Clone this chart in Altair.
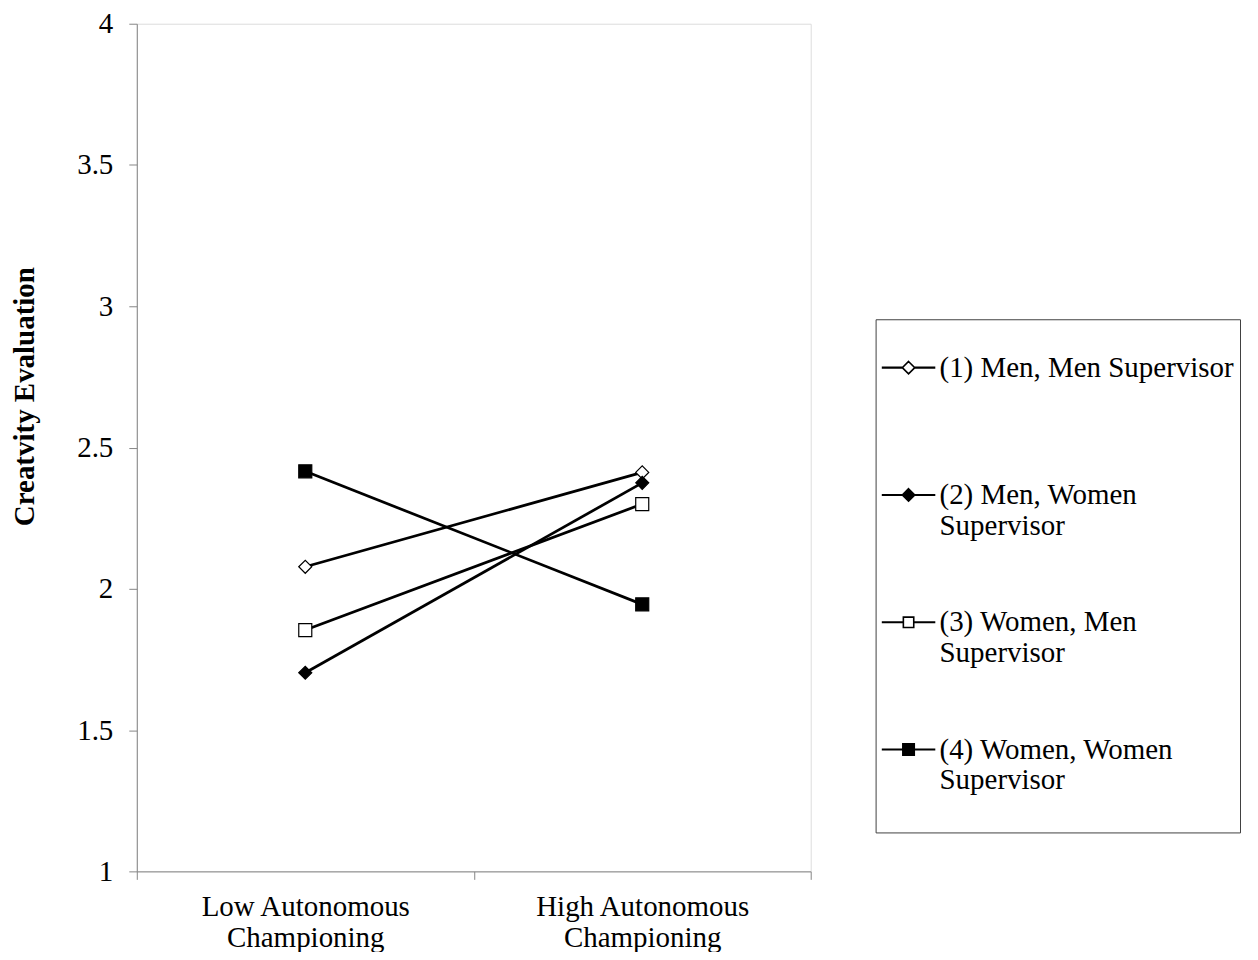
import altair as alt
import pandas as pd

# ---- data ----
conditions = ["Low Autonomous Championing", "High Autonomous Championing"]
series = [
    "(1) Men, Men Supervisor",
    "(2) Men, Women Supervisor",
    "(3) Women, Men Supervisor",
    "(4) Women, Women Supervisor",
]
low_values = [2.078, 1.703, 1.854, 2.416]
high_values = [2.412, 2.375, 2.300, 1.945]
y_ticks = [1, 1.5, 2, 2.5, 3, 3.5, 4]

# ---- styles ----
marker_shapes = ["diamond", "diamond", "square", "square"]
marker_fills = ["white", "black", "white", "black"]
marker_strokes = ["black", "black", "black", "black"]
marker_sizes = [170, 170, 180, 200]
FONT = "Liberation Serif"
FS = 29
GRAY = "#868686"


def legend_symbol(kind, r):
    # slim bars left & right of the marker, marker in the middle
    t = 0.01
    bars = f"M-1,{-t}H{-r}V{t}H-1Z M{r},{-t}H1V{t}H{r}Z "
    if kind == "diamond":
        m = f"M0,{-r}L{r},0L0,{r}L{-r},0Z"
    else:
        m = f"M{-r},{-r}H{r}V{r}H{-r}Z"
    return bars + m


legend_paths = [
    legend_symbol("diamond", 0.24),
    legend_symbol("diamond", 0.24),
    legend_symbol("square", 0.2),
    legend_symbol("square", 0.22),
]

rows = []
for s, lo, hi in zip(series, low_values, high_values):
    rows.append({"series": s, "condition": conditions[0], "value": lo})
    rows.append({"series": s, "condition": conditions[1], "value": hi})
df = pd.DataFrame(rows)

x_enc = alt.X(
    "condition:N",
    sort=conditions,
    scale=alt.Scale(paddingInner=0, paddingOuter=0),
    axis=alt.Axis(
        title=None,
        labelAngle=0,
        tickBand="extent",
        tickSize=8,
        tickColor=GRAY,
        domainColor=GRAY,
        labelFont=FONT,
        labelFontSize=FS,
        labelColor="black",
        labelPadding=13,
        labelLineHeight=31,
        labelLimit=600,
        labelExpr="[slice(datum.label, 0, lastindexof(datum.label, ' ')), slice(datum.label, lastindexof(datum.label, ' ') + 1)]",
        grid=False,
    ),
)
y_enc = alt.Y(
    "value:Q",
    scale=alt.Scale(domain=[1, 4], nice=False, zero=False),
    axis=alt.Axis(
        title="Creatvity Evaluation",
        values=y_ticks,
        format="~g",
        tickSize=8,
        tickColor=GRAY,
        domainColor=GRAY,
        labelFont=FONT,
        labelFontSize=FS,
        labelColor="black",
        labelPadding=16,
        titleFont=FONT,
        titleFontSize=FS,
        titleFontWeight="bold",
        titleColor="black",
        titleAngle=270,
        titleAlign="center",
        titleBaseline="middle",
        titleX=-112,
        titleY=373,
        grid=False,
    ),
)

base = alt.Chart(df)

lines = base.mark_line(color="black", strokeWidth=2.75).encode(
    x=x_enc, y=y_enc, detail="series:N"
)

points = base.mark_point(filled=True, stroke="black", strokeWidth=1.2, opacity=1).encode(
    x=x_enc,
    y=y_enc,
    shape=alt.Shape("series:N", scale=alt.Scale(domain=series, range=marker_shapes), legend=None),
    fill=alt.Fill("series:N", scale=alt.Scale(domain=series, range=marker_fills), legend=None),
    size=alt.Size("series:N", scale=alt.Scale(domain=series, range=marker_sizes), legend=None),
)

legend = alt.Legend(
    title=" ",
    titleFontSize=10,
    titlePadding=5.5,
    orient="none",
    legendX=740,
    legendY=296,
    direction="vertical",
    strokeColor="#404040",
    fillColor="white",
    padding=6,
    labelFont=FONT,
    labelFontSize=FS,
    labelColor="black",
    labelBaseline="middle",
    labelOffset=4,
    labelLimit=600,
    labelExpr="length(datum.label) > 23 ? [slice(datum.label, 0, lastindexof(datum.label, ' ')), slice(datum.label, lastindexof(datum.label, ' ') + 1), ''] : [datum.label, '', '']",
    symbolSize=2704,
    symbolStrokeColor="black",
    symbolStrokeWidth=1.6,
    rowPadding=23.5,
)

legend_layer = base.transform_filter("false").mark_point(
    filled=True, stroke="black", strokeWidth=1.6, opacity=1
).encode(
    shape=alt.Shape("series:N", scale=alt.Scale(domain=series, range=legend_paths), legend=legend),
    fill=alt.Fill("series:N", scale=alt.Scale(domain=series, range=marker_fills), legend=legend),
    stroke=alt.Stroke("series:N", scale=alt.Scale(domain=series, range=marker_strokes), legend=legend),
)

chart = (
    alt.layer(lines, points, legend_layer)
    .resolve_scale(shape="independent", fill="independent", size="independent", stroke="independent")
    .properties(
        width=675,
        height=849,
        autosize="none",
        padding={"left": 129, "top": 15, "right": 440, "bottom": 80},
    )
    .configure_view(stroke=None)
    .configure(style={"guide-label": {"lineHeight": 31}})
)

chart.save("out.html", embed_options={"renderer": "svg", "actions": False})
